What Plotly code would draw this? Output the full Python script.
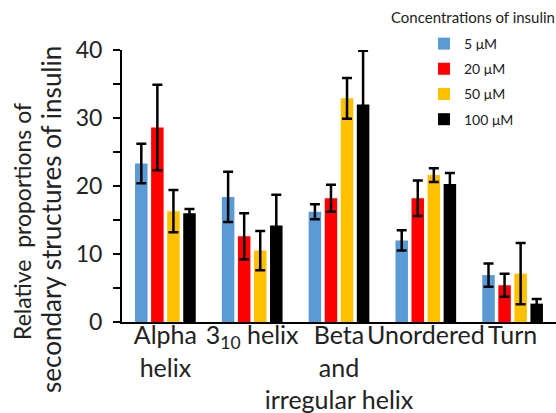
import plotly.graph_objects as go

categories = ["Alpha<br>helix", "3<sub>10</sub> helix", "Beta<br>and<br>irregular helix", "Unordered", "Turn"]
series_names = ["5 μM", "20 μM", "50 μM", "100 μM"]
colors = ["#5B9BD5", "#FF0000", "#FFC000", "#000000"]

values_5 = [23.3, 18.4, 16.2, 12.0, 6.9]
values_20 = [28.6, 12.6, 18.2, 18.2, 5.4]
values_50 = [16.3, 10.5, 32.9, 21.6, 7.1]
values_100 = [16.0, 14.2, 32.0, 20.3, 2.7]

err_5 = [2.9, 3.7, 1.1, 1.5, 1.7]
err_20 = [6.3, 3.4, 2.0, 2.6, 1.7]
err_50 = [3.1, 2.9, 3.0, 1.0, 4.5]
err_100 = [0.6, 4.5, 7.9, 1.6, 0.7]

y_ticks = [0, 10, 20, 30, 40]
y_title_line1 = "Relative\u00a0\u00a0proportions of"
y_title_line2 = "secondary structures of insulin"
legend_title = "Concentrations of insulin"

FONT = "Lato"
TXT = "#222222"

fig = go.Figure()
for name, vals, errs, col in zip(series_names, [values_5, values_20, values_50, values_100],
                                 [err_5, err_20, err_50, err_100], colors):
    fig.add_trace(go.Bar(
        name=name, x=categories, y=vals, legendgroup=name,
        marker=dict(color=col, line=dict(width=0)),
        error_y=dict(type="data", array=errs, visible=True, color="black", thickness=2.5, width=5),
    ))

W, H = 556, 413
L, R, T, B = 122, 0, 50, 91
pw, ph = W - L - R, H - T - B

def px_x(x):
    return (x - L) / pw

def px_y(y):
    return (H - B - y) / ph

fig.update_layout(
    width=W, height=H,
    margin=dict(l=L, r=R, t=T, b=B),
    paper_bgcolor="white", plot_bgcolor="white",
    barmode="group", bargap=0.26, bargroupgap=0.22,
    font=dict(family=FONT, color=TXT),
    legend=dict(x=px_x(424), y=px_y(28), xanchor="left", yanchor="top",
                font=dict(size=14, family=FONT, color=TXT),
                bgcolor="rgba(0,0,0,0)", tracegroupgap=4),
    xaxis=dict(showline=True, linecolor="black", linewidth=2, ticks="", tickangle=0,
               automargin=False, ticklabelstandoff=-10,
               tickfont=dict(size=25, family=FONT, color=TXT),
               showgrid=False, zeroline=False),
    yaxis=dict(range=[0, 40], tickvals=y_ticks, showline=True, linecolor="black", linewidth=2,
               automargin=False,
               ticks="outside", ticklen=7, tickwidth=2, tickcolor="black",
               minor=dict(dtick=5, ticks="outside", ticklen=7, tickwidth=2, tickcolor="black"),
               tickfont=dict(size=23, family=FONT, color=TXT), ticklabelstandoff=6,
               showgrid=False, zeroline=False),
    annotations=[
        dict(text=y_title_line1, xref="paper", yref="paper", x=px_x(22), y=px_y(222),
             xanchor="center", yanchor="middle", textangle=-90, showarrow=False,
             font=dict(size=23, family=FONT, color=TXT)),
        dict(text=y_title_line2, xref="paper", yref="paper", x=px_x(51), y=px_y(220),
             xanchor="center", yanchor="middle", textangle=-90, showarrow=False,
             font=dict(size=26, family=FONT, color=TXT)),
        dict(text=legend_title, xref="paper", yref="paper", x=px_x(389), y=px_y(17),
             xanchor="left", yanchor="middle", showarrow=False,
             font=dict(size=15, family=FONT, color=TXT)),
    ],
)

fig.write_html("out.html")
